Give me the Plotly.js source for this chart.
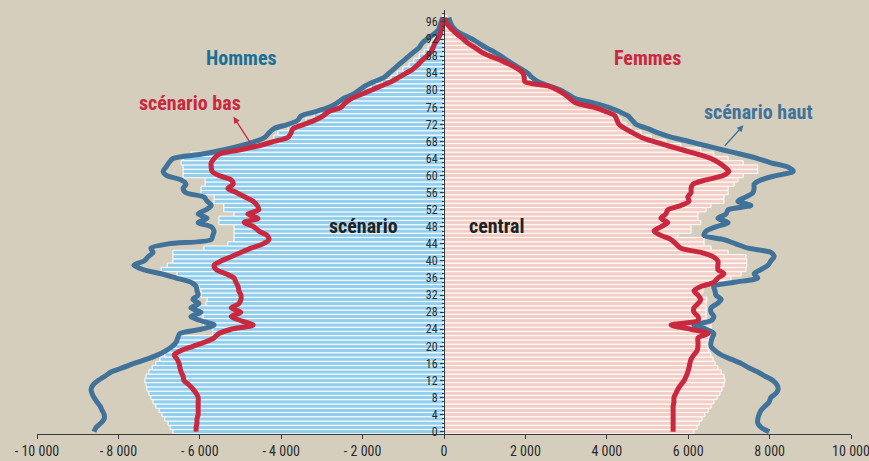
<!DOCTYPE html>
<html>
<head>
<meta charset="utf-8">
<script src="https://cdn.plot.ly/plotly-3.0.1.min.js"></script>
<style>html,body{margin:0;padding:0;background:#d5cebd;}#chart{width:869px;height:461px;}</style>
</head>
<body>
<div id="chart"></div>
<script>
const ages = [0,1,2,3,4,5,6,7,8,9,10,11,12,13,14,15,16,17,18,19,20,21,22,23,24,25,26,27,28,29,30,31,32,33,34,35,36,37,38,39,40,41,42,43,44,45,46,47,48,49,50,51,52,53,54,55,56,57,58,59,60,61,62,63,64,65,66,67,68,69,70,71,72,73,74,75,76,77,78,79,80,81,82,83,84,85,86,87,88,89,90,91,92,93,94,95,96,97];

const menCentral = [-6660,-6730,-6780,-6860,-6930,-7000,-7080,-7150,-7200,-7250,
 -7300,-7320,-7350,-7320,-7250,-7170,-7080,-6980,-6860,-6730,
 -6660,-6580,-6540,-5680,-5680,-5900,-6020,-5920,-5970,-6020,
 -5850,-5820,-5970,-5970,-6020,-6270,-6510,-6560,-6950,-6800,
 -6660,-6660,-6660,-5900,-5310,-5160,-5160,-5160,-5160,-5530,
 -5530,-5160,-5410,-5410,-5650,-5650,-5970,-5970,-5870,-5870,
 -6410,-6410,-6410,-6460,-6410,-6220,-5160,-4910,-4250,-4180,
 -4080,-3830,-3640,-3390,-3190,-3020,-2700,-2530,-2380,-2160,
 -1990,-1790,-1520,-1300,-1150,-1010,-860,-740,-610,-490,
 -390,-320,-250,-170,-120,-70,-50,-30];

const womenCentral = [6140,6220,6270,6340,6410,6490,6560,6630,6710,6780,
 6830,6880,6900,6880,6810,6730,6660,6610,6560,6510,
 6490,6490,6510,6440,6560,6560,6440,6440,6440,6440,
 6440,6460,6310,6360,6390,6860,7050,7300,7420,7440,
 7440,7420,6980,6560,6390,6390,5750,6070,6070,6310,
 6240,6240,6440,6560,6880,6880,6980,6980,7130,7220,
 7350,7710,7710,7350,6980,6630,6310,5820,5450,5090,
 4840,4590,4470,4350,4280,4100,3810,3490,3190,3020,
 2830,2560,2140,2060,1990,1840,1650,1470,1280,1080,
 910,740,590,420,290,170,100,70];

const menLow = [-6090,-6090,-6070,-6070,-6040,-6040,-6040,-6040,-6040,-6090,
 -6170,-6270,-6390,-6410,-6460,-6490,-6510,-6560,-6630,-6460,
 -6170,-5870,-5650,-5530,-5230,-4690,-4990,-5230,-4990,-5230,
 -5040,-4990,-4990,-5040,-5060,-5110,-5160,-5360,-5600,-5650,
 -5480,-5230,-4990,-4740,-4450,-4300,-4350,-4550,-4670,-4910,
 -4570,-4820,-4550,-4590,-4690,-4890,-5090,-5310,-5180,-5230,
 -5530,-5700,-5720,-5720,-5650,-5530,-5040,-4550,-4180,-3830,
 -3760,-3710,-3440,-3170,-2970,-2830,-2530,-2430,-2290,-2040,
 -1790,-1550,-1300,-1110,-930,-760,-640,-540,-420,-320,
 -270,-220,-150,-100,-70,-50,-25,-10];

const menHigh = [-8600,-8550,-8430,-8350,-8350,-8400,-8450,-8530,-8600,-8650,
 -8670,-8620,-8500,-8330,-8180,-7890,-7620,-7300,-7030,-6830,
 -6680,-6580,-6540,-6490,-5970,-5650,-5970,-6220,-5970,-6220,
 -6020,-6170,-6040,-6070,-6090,-6220,-6580,-6950,-7400,-7620,
 -7370,-7270,-7150,-7200,-6780,-5720,-5680,-5650,-5720,-6040,
 -5820,-6040,-5850,-5720,-5820,-5900,-6340,-6410,-6340,-6460,
 -6810,-6900,-6830,-6760,-6660,-5970,-5430,-4990,-4640,-4400,
 -4300,-4180,-3830,-3590,-3510,-3150,-2830,-2630,-2480,-2240,
 -2090,-1940,-1720,-1470,-1350,-1230,-1110,-980,-860,-740,
 -610,-540,-420,-270,-150,-100,-70,-30];

const womenLow = [5630,5630,5630,5630,5630,5630,5630,5650,5650,5700,
 5750,5820,5900,5950,5990,6020,6040,6070,6140,6220,
 6240,6240,6240,6490,6070,5580,6240,6240,6140,6140,
 6240,6310,6240,6140,6310,6630,6730,6880,6730,6730,
 6730,6610,6310,5820,5700,5580,5330,5160,5330,5500,
 5330,5450,5500,5820,6020,5990,6070,6070,6120,6440,
 6860,7000,6900,6760,6560,6240,5870,5500,5140,4840,
 4640,4450,4300,4250,4200,3980,3690,3240,3100,2970,
 2800,2560,1990,1970,1940,1820,1620,1400,1130,910,
 760,590,470,340,220,120,50,20];

const womenHigh = [7990,7790,7710,7710,7740,7790,7890,7990,8030,8160,
 8210,8180,8080,7890,7710,7490,7300,7050,6810,6660,
 6560,6560,6590,6630,6440,6140,6560,6630,6560,6560,
 6710,6810,6680,6660,6630,7130,7710,7620,7790,7960,
 8030,8110,8030,7470,7170,6880,6390,6440,6680,6980,
 6730,6930,6980,7540,7220,7420,7590,7620,7620,7790,
 8160,8580,8450,8030,7710,7300,6860,6440,6020,5580,
 5260,5010,4720,4620,4520,4300,4050,3690,3240,3050,
 2870,2580,2310,2160,2060,1890,1720,1550,1400,1230,
 1030,860,690,470,290,200,150,120];

const xTickVals = [-10000,-8000,-6000,-4000,-2000,0,2000,4000,6000,8000,10000];
const xTickText = ['- 10 000','- 8 000','- 6 000','- 4 000','- 2 000','0','2 000','4 000','6 000','8 000','10 000'];
const yTickVals = [0,4,8,12,16,20,24,28,32,36,40,44,48,52,56,60,64,68,72,76,80,84,88,92,96];

const FONT = '"Liberation Sans Narrow", "Roboto Condensed", "Arial Narrow", "Liberation Sans", sans-serif';
const RED = '#c9283f';
const BLUE = '#41739a';

const traces = [
  {type:'bar', orientation:'h', y:ages, x:menCentral, marker:{color:'#92cfee', line:{color:'#ffffff', width:1}}, hoverinfo:'skip'},
  {type:'bar', orientation:'h', y:ages, x:womenCentral, marker:{color:'#f2cec7', line:{color:'#ffffff', width:1}}, hoverinfo:'skip'},
  {type:'scatter', mode:'lines', y:ages, x:menHigh, line:{color:BLUE, width:5, shape:'spline', smoothing:0.8}},
  {type:'scatter', mode:'lines', y:ages, x:womenHigh, line:{color:BLUE, width:5, shape:'spline', smoothing:0.8}},
  {type:'scatter', mode:'lines', y:ages, x:menLow, line:{color:RED, width:5, shape:'spline', smoothing:0.8}},
  {type:'scatter', mode:'lines', y:ages, x:womenLow, line:{color:RED, width:5, shape:'spline', smoothing:0.8}}
];

const ann = (text, x, y, color, size) => ({text:'<b>'+text+'</b>', x:x, y:y, xref:'x', yref:'y', showarrow:false, font:{family:FONT, size:size, color:color}});

const layout = {
  width:869, height:461,
  margin:{l:37, r:18, t:10, b:27},
  paper_bgcolor:'#d5cebd', plot_bgcolor:'#d5cebd',
  showlegend:false,
  barmode:'overlay', bargap:0,
  font:{family:FONT, color:'#2b2b2b'},
  xaxis:{range:[-10000,10000], tickvals:xTickVals, ticktext:xTickText, showgrid:false, zeroline:false,
    showline:true, linecolor:'#3a3a3a', linewidth:1, ticks:'outside', ticklen:4, tickcolor:'#3a3a3a',
    ticklabeloverflow:'allow',
    tickfont:{family:FONT, size:14, color:'#2b2b2b'}, fixedrange:true},
  yaxis:{range:[-0.54, 98.8], tickvals:yTickVals, showgrid:false, zeroline:false, anchor:'free', position:0.5,
    showline:true, linecolor:'#3a3a3a', linewidth:1, ticks:'outside', ticklen:4, tickcolor:'#3a3a3a',
    minor:{dtick:1, ticks:'outside', ticklen:2, tickcolor:'#3a3a3a'},
    tickfont:{family:FONT, size:12, color:'#2b2b2b'}, fixedrange:true},
  annotations:[
    ann('Hommes', -4980, 87.5, '#1b7095', 20),
    ann('Femmes', 4990, 87.5, RED, 20),
    ann('scénario bas', -6230, 77.0, RED, 20),
    ann('scénario haut', 7720, 74.9, BLUE, 20),
    ann('scénario', -1990, 48.2, '#222222', 20),
    ann('central', 1300, 48.2, '#222222', 20),
    {text:'', x:-5173, y:73.8, xref:'x', yref:'y', showarrow:true, ax:18, ay:28, arrowhead:2, arrowsize:1, arrowwidth:1.3, arrowcolor:RED},
    {text:'', x:7358, y:71.8, xref:'x', yref:'y', showarrow:true, ax:-20, ay:22, arrowhead:2, arrowsize:1, arrowwidth:1.3, arrowcolor:BLUE}
  ]
};

Plotly.newPlot('chart', traces, layout, {staticPlot:true, displayModeBar:false});
</script>
</body>
</html>
